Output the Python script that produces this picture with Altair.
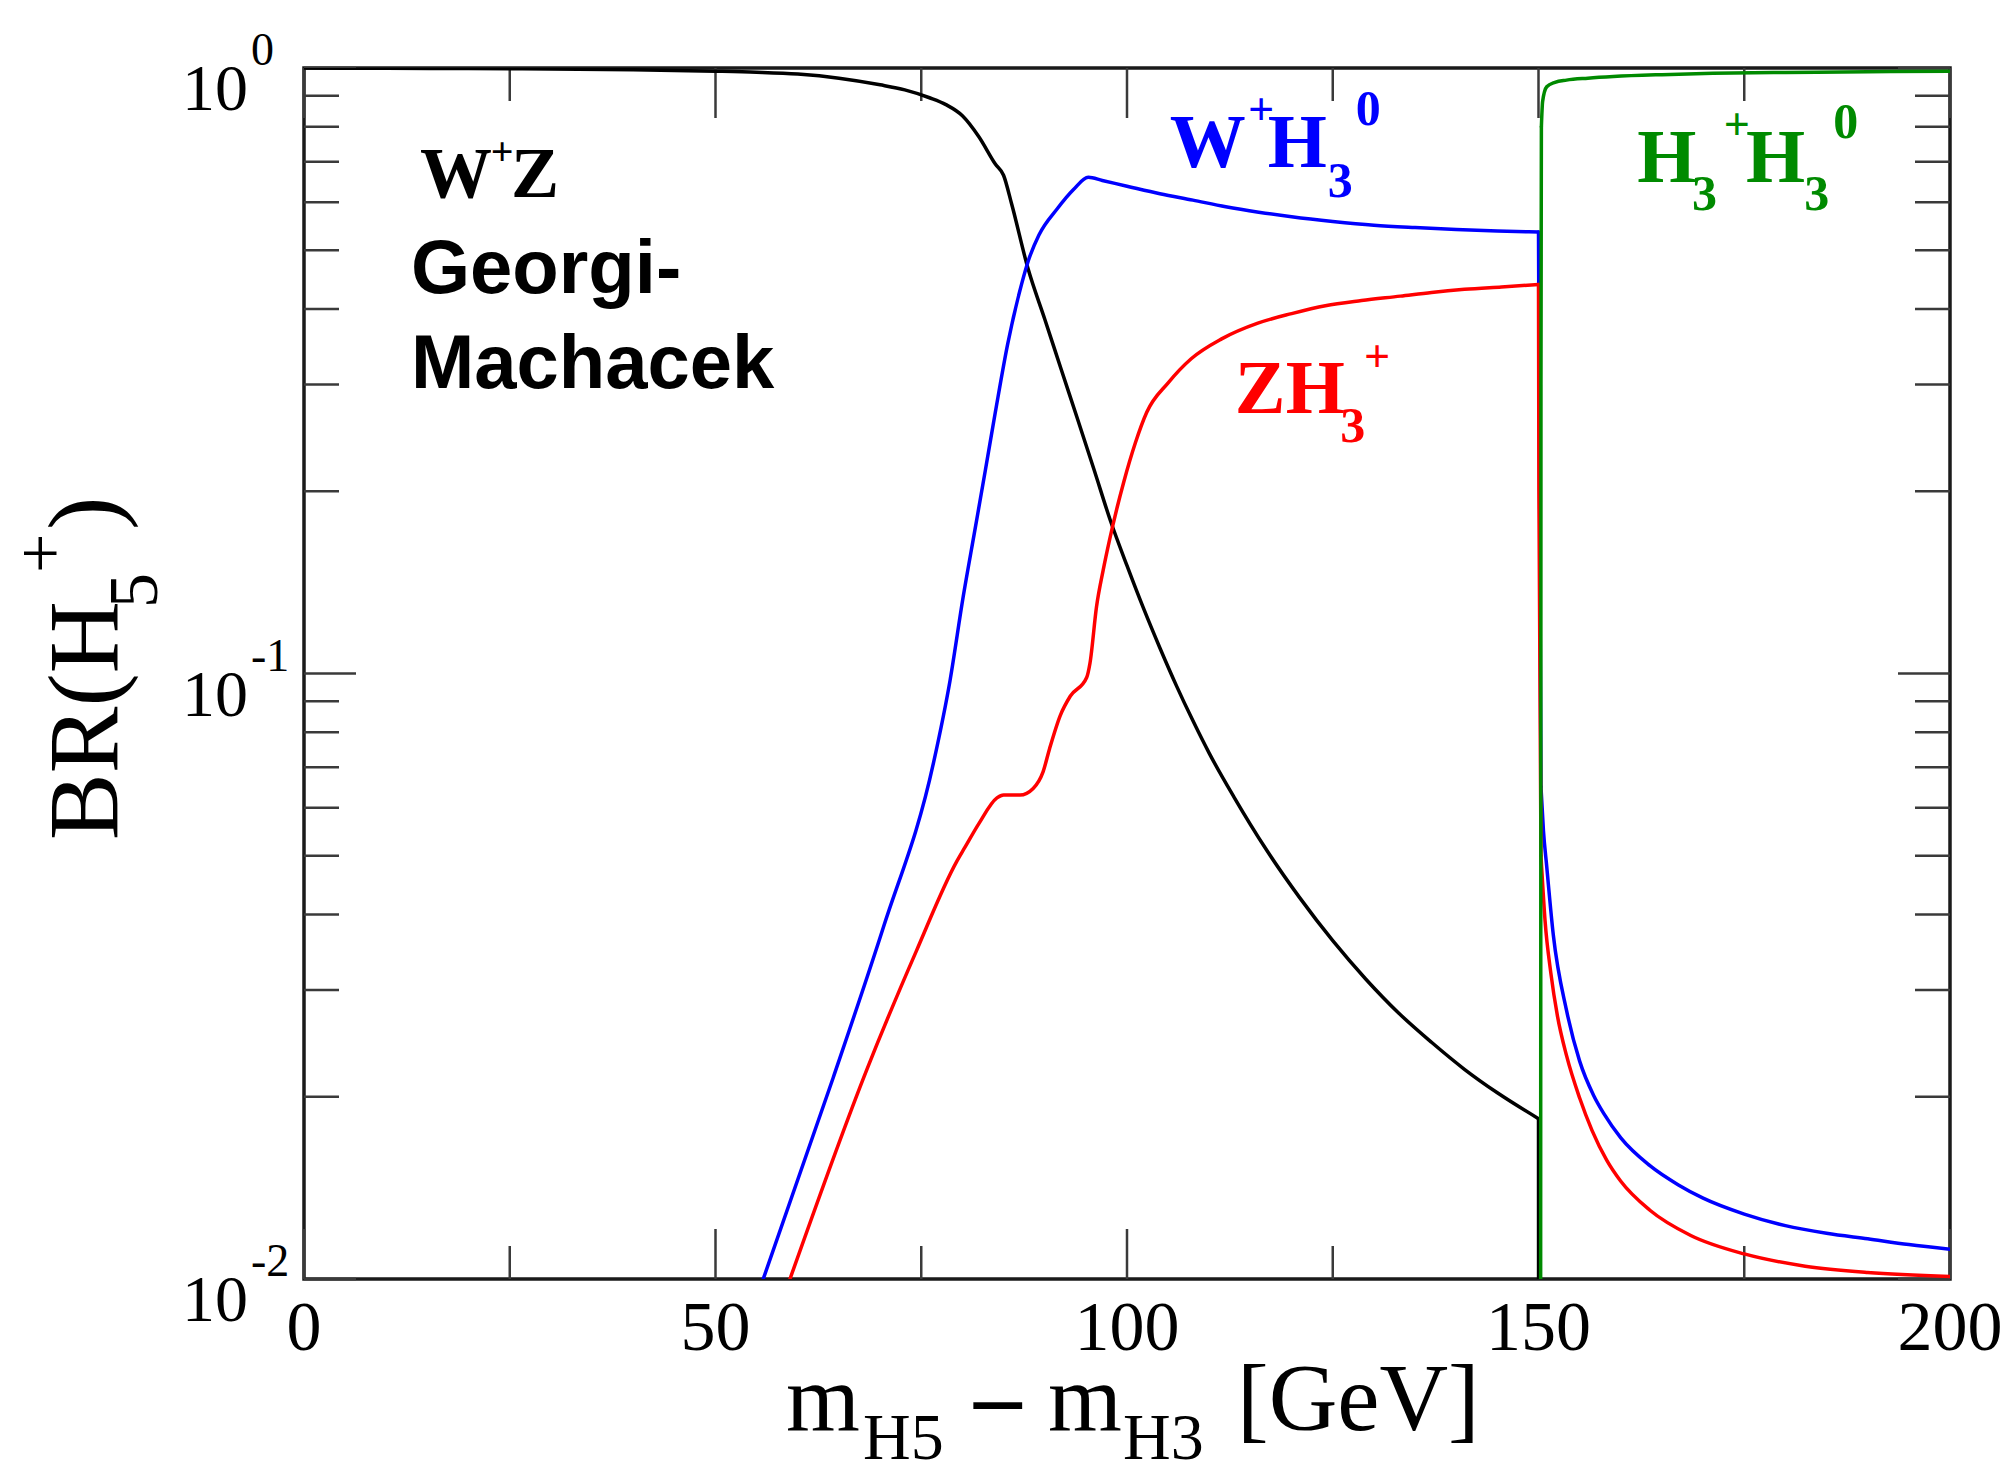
import altair as alt
import pandas as pd

# ---------------- data ----------------
black_x = [0, 10, 20, 30, 40, 50, 55, 60, 65, 70, 73, 76, 78, 80, 82, 84, 85, 86, 88, 90,
           92, 94, 96, 98, 100, 102, 104, 106, 108, 110, 113, 117, 121, 125, 129, 133, 137,
           141, 145, 150, 150.02]
black_y = [1.0, 0.999, 0.998, 0.996, 0.993, 0.988, 0.984, 0.977, 0.962, 0.938, 0.92, 0.893,
           0.87, 0.834, 0.77, 0.694, 0.665, 0.595, 0.465, 0.385, 0.318, 0.263, 0.217, 0.1786,
           0.1507, 0.1282, 0.1102, 0.0955, 0.0836, 0.0738, 0.0625, 0.0510, 0.0426, 0.0362,
           0.0313, 0.0275, 0.0246, 0.0222, 0.0203, 0.0184, 0.004]

blue_x = [55.8, 64.3, 70.4, 76.5, 78.5, 80.1, 81.5, 82.8, 84.0, 85.5, 87.2, 88.0, 89.3, 91.5,
          93.5, 95.3, 97, 100, 104, 108, 112, 116, 120, 125, 130, 135, 140, 145, 150, 150.1,
          150.3, 150.6, 151, 151.8, 153.4, 155, 156.7, 158, 160, 163.5, 167, 170, 175, 180,
          185, 190, 195, 200]
blue_y = [0.010, 0.0215, 0.0381, 0.0713, 0.0974, 0.134, 0.172, 0.217, 0.27, 0.35, 0.44, 0.48,
          0.53, 0.585, 0.63, 0.66, 0.652, 0.638, 0.62, 0.605, 0.59, 0.578, 0.568, 0.558, 0.55,
          0.545, 0.541, 0.538, 0.536, 0.25, 0.065, 0.055, 0.048, 0.037, 0.0278, 0.0229, 0.0201,
          0.0187, 0.0171, 0.0154, 0.0143, 0.0136, 0.0128, 0.01225, 0.0119, 0.01165, 0.0114,
          0.0112]

red_x = [59.05, 68.4, 74.4, 79.3, 80.3, 82.0, 84.2, 85.0, 87.0, 88.6, 89.8, 90.6, 91.9, 93.1,
         95.1, 95.5, 96.3, 97.1, 97.9, 98.8, 99.6, 101, 102.4, 105, 107.8, 111.5, 115.9, 120,
         124.1, 128.5, 133.2, 137, 141, 145.5, 150, 150.05, 150.3, 150.8, 151.5, 152.3, 153.4,
         155, 156.5, 158.3, 160, 163.5, 168.5, 175, 182.4, 190, 200]
red_y = [0.010, 0.0222, 0.0348, 0.0489, 0.0516, 0.0565, 0.0623, 0.0630, 0.0630, 0.0646, 0.0688,
         0.0752, 0.0853, 0.0917, 0.0985, 0.104, 0.129, 0.148, 0.1667, 0.188, 0.207, 0.24, 0.27,
         0.302, 0.331, 0.357, 0.379, 0.393, 0.405, 0.413, 0.42, 0.426, 0.431, 0.435, 0.439,
         0.2, 0.05, 0.039, 0.032, 0.0272, 0.0234, 0.0199, 0.0176, 0.0157, 0.0145, 0.013, 0.0118,
         0.011, 0.0105, 0.01025, 0.0101]

green_x = [150.25, 150.3, 150.35, 150.5, 151, 152, 153.4, 156, 159.1, 165, 171.2, 180, 190, 200]
green_y = [0.004, 0.3, 0.8, 0.88, 0.931, 0.947, 0.955, 0.962, 0.968, 0.975, 0.98, 0.983, 0.986,
           0.988]

# where each curve jumps at the H3+H3 threshold (drawn as straight segments)
black_jump = (150, 150.02)
blue_jump = (150, 150.3)
red_jump = (150, 150.3)
green_jump = (150.25, 150.35)

x_major_ticks = [0, 50, 100, 150, 200]
x_minor_ticks = [25, 75, 125, 175]
x_tick_labels = ["0", "50", "100", "150", "200"]
y_major_ticks = [0.01, 0.1, 1.0]
y_tick_exponents = ["-2", "-1", "0"]
y_minor_ticks = [0.02, 0.03, 0.04, 0.05, 0.06, 0.07, 0.08, 0.09,
                 0.2, 0.3, 0.4, 0.5, 0.6, 0.7, 0.8, 0.9]

# ---------------- layout ----------------
W, H = 1646, 1211
SERIF = "Liberation Serif"
SANS = "Liberation Sans"
BLUE, RED, GREEN, BLACK = "#0000ff", "#ff0000", "#008a00", "#000000"
TICK = "#3a3a3a"

xs = alt.Scale(domain=[0, 200], nice=False, zero=False)
ys = alt.Scale(type="log", domain=[0.01, 1], nice=False)


def X(field):
    return alt.X(field, type="quantitative", scale=xs, axis=None)


def Y(field):
    return alt.Y(field, type="quantitative", scale=ys, axis=None)


def curve(xv, yv, color, jump):
    df = pd.DataFrame({"x": xv, "y": yv})
    a, b = jump
    parts = [(df[df.x <= a], "monotone"),
             (df[(df.x >= a) & (df.x <= b)], "linear"),
             (df[df.x >= b], "monotone")]
    out = []
    for part, interp in parts:
        if len(part) >= 2:
            out.append(alt.Chart(part).mark_line(
                color=color, strokeWidth=3.5, clip=True, interpolate=interp,
                strokeCap="round", strokeJoin="round").encode(x=X("x"), y=Y("y")))
    return out


def xticks(vals, length):
    df = pd.DataFrame({"v": vals})
    base = alt.Chart(df).mark_rule(color=TICK, strokeWidth=2.5)
    return [base.encode(x=X("v"), y=alt.value(H), y2=alt.value(H - length)),
            base.encode(x=X("v"), y=alt.value(0), y2=alt.value(length))]


def yticks(vals, length):
    df = pd.DataFrame({"v": vals})
    base = alt.Chart(df).mark_rule(color=TICK, strokeWidth=2.5)
    return [base.encode(y=Y("v"), x=alt.value(0), x2=alt.value(length)),
            base.encode(y=Y("v"), x=alt.value(W), x2=alt.value(W - length))]


def ptext(text, px, py, size, font=SERIF, weight="normal", color=BLACK, angle=0, align="left"):
    return alt.Chart(alt.Data(values=[{"a": 1}])).mark_text(
        text=text, align=align, baseline="alphabetic", font=font, fontSize=size,
        fontWeight=weight, color=color, angle=angle).encode(
        x=alt.value(px), y=alt.value(py))


def dtext(text, gx, br, size, color, font=SERIF, weight="bold"):
    df = pd.DataFrame({"gx": [gx], "br": [br], "t": [text]})
    return alt.Chart(df).mark_text(
        align="left", baseline="alphabetic", font=font, fontSize=size,
        fontWeight=weight, color=color).encode(x=X("gx"), y=Y("br"), text="t:N")


layers = []
layers += xticks(x_major_ticks, 50) + xticks(x_minor_ticks, 33)
layers += yticks(y_major_ticks, 52) + yticks(y_minor_ticks, 35)

layers += curve(black_x, black_y, BLACK, black_jump)
layers += curve(blue_x, blue_y, BLUE, blue_jump)
layers += curve(red_x, red_y, RED, red_jump)
layers += curve(green_x, green_y, GREEN, green_jump)

# x tick labels
xl = pd.DataFrame({"v": x_major_ticks, "t": x_tick_labels})
layers.append(alt.Chart(xl).mark_text(font=SERIF, fontSize=70, align="center",
                                      baseline="alphabetic", color=BLACK).encode(
    x=X("v"), y=alt.value(H + 71), text="t:N"))

# y tick labels 10^n
yl = pd.DataFrame({"v": y_major_ticks, "e": y_tick_exponents, "b": ["10"] * 3})
layers.append(alt.Chart(yl).mark_text(font=SERIF, fontSize=66, align="right",
                                      baseline="alphabetic", dy=42, color=BLACK).encode(
    x=alt.value(-56), y=Y("v"), text="b:N"))
layers.append(alt.Chart(yl).mark_text(font=SERIF, fontSize=46, align="left",
                                      baseline="alphabetic", dy=-3, color=BLACK).encode(
    x=alt.value(-53), y=Y("v"), text="e:N"))

# x axis title: m_H5 - m_H3 [GeV]
layers += [
    ptext("m", 482, 1362, 95),
    ptext("H5", 559, 1391, 66),
    ptext("\u2013", 670, 1360, 95, weight="bold"),
    ptext("m", 744, 1362, 95),
    ptext("H3", 819, 1391, 66),
    ptext("[GeV]", 933, 1362, 95),
]

# y axis title: BR(H5+)
layers += [
    ptext("BR(H", -187, 772, 100, angle=270),
    ptext("5", -147, 540, 70, angle=270),
    ptext("+", -240, 505, 70, angle=270),
    ptext(")", -187, 462, 100, angle=270),
]

# in-plot labels
layers += [
    dtext("W", 14.1, 0.612, 72, BLACK),
    dtext("+", 22.7, 0.692, 40, BLACK),
    dtext("Z", 25.15, 0.612, 72, BLACK),
    dtext("Georgi-", 13.0, 0.425, 76, BLACK, font=SANS),
    dtext("Machacek", 13.0, 0.296, 76, BLACK, font=SANS),
    dtext("W", 105.2, 0.686, 76, BLUE),
    dtext("+", 114.7, 0.805, 46, BLUE),
    dtext("H", 117.1, 0.686, 76, BLUE),
    dtext("3", 124.4, 0.612, 50, BLUE),
    dtext("0", 127.8, 0.805, 50, BLUE),
    dtext("Z", 113.1, 0.2693, 76, RED),
    dtext("H", 119.3, 0.2693, 76, RED),
    dtext("3", 125.9, 0.241, 50, RED),
    dtext("+", 128.8, 0.315, 46, RED),
    dtext("H", 162.0, 0.648, 76, GREEN),
    dtext("3", 168.65, 0.583, 50, GREEN),
    dtext("+", 172.5, 0.761, 46, GREEN),
    dtext("H", 175.2, 0.648, 76, GREEN),
    dtext("3", 182.3, 0.583, 50, GREEN),
    dtext("0", 185.8, 0.766, 50, GREEN),
]

chart = alt.layer(*layers).properties(
    width=W, height=H,
    autosize=alt.AutoSizeParams(type="none"),
    padding={"left": 304, "top": 68, "right": 59, "bottom": 193},
    background="white",
).configure_view(stroke="#1a1a1a", strokeWidth=3.5)

chart.save("out.html", embed_options={"renderer": "svg", "actions": False})
